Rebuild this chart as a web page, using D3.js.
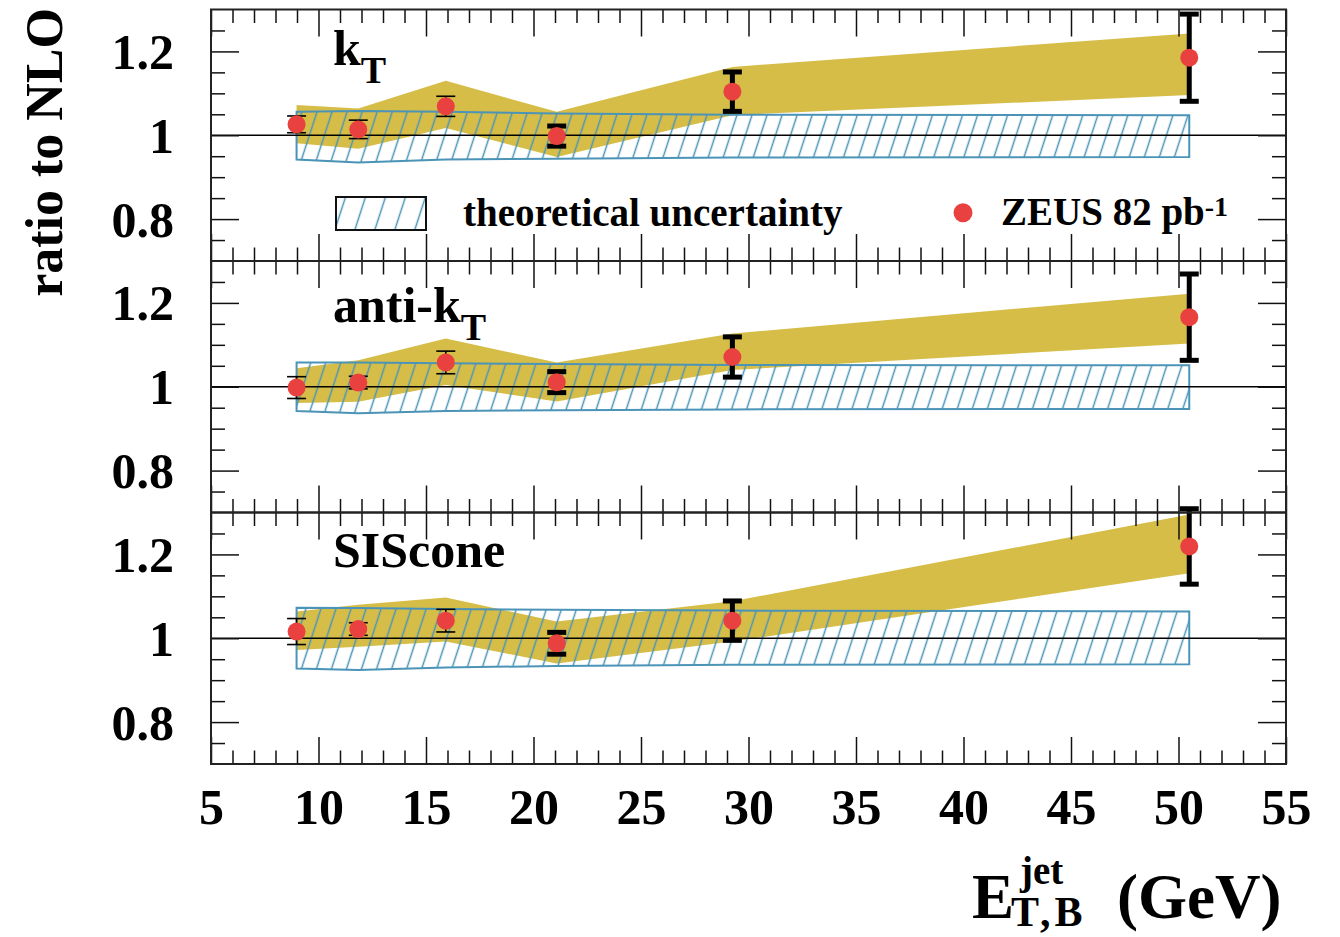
<!DOCTYPE html>
<html>
<head>
<meta charset="utf-8">
<script src="https://cdn.jsdelivr.net/npm/d3@7"></script>
<style>
  body { margin: 0; background: #fff; }
  svg text { font-family: "Liberation Serif", "Times New Roman", serif; font-weight: bold; fill: #000; }
</style>
</head>
<body>
<svg id="chart" width="1340" height="937"></svg>
<script>
// ---- data: ratio of measured inclusive-jet cross sections to NLO ----
const etBins = [8.98, 11.85, 15.92, 21.08, 29.25, 50.5];   // E_T,B^jet (GeV)

// k_T
const ktRatio   = [1.026, 1.014, 1.069, 0.998, 1.104, 1.185];
const ktError   = [0.020, 0.022, 0.024, 0.024, 0.047, 0.104];
const ktBandHi  = [1.072, 1.064, 1.130, 1.056, 1.163, 1.243];
const ktBandLo  = [0.981, 0.968, 1.017, 0.948, 1.048, 1.096];
const ktTheoHi  = [1.056, 1.058, 1.056, 1.052, 1.049, 1.048];
const ktTheoLo  = [0.942, 0.935, 0.942, 0.944, 0.947, 0.948];

// anti-k_T
const akRatio   = [0.998, 1.010, 1.058, 1.011, 1.071, 1.166];
const akError   = [0.026, 0.015, 0.027, 0.025, 0.048, 0.103];
const akBandHi  = [1.044, 1.063, 1.115, 1.058, 1.127, 1.222];
const akBandLo  = [0.961, 0.964, 1.004, 0.965, 1.040, 1.103];
const akTheoHi  = [1.058, 1.058, 1.056, 1.054, 1.052, 1.051];
const akTheoLo  = [0.942, 0.937, 0.942, 0.944, 0.946, 0.947];

// SIScone
const siRatio   = [1.016, 1.022, 1.042, 0.988, 1.042, 1.219];
const siError   = [0.031, 0.015, 0.027, 0.026, 0.047, 0.090];
const siBandHi  = [1.064, 1.080, 1.097, 1.040, 1.088, 1.295];
const siBandLo  = [0.972, 0.980, 0.992, 0.940, 0.992, 1.155];
const siTheoHi  = [1.073, 1.072, 1.070, 1.068, 1.066, 1.064];
const siTheoLo  = [0.928, 0.924, 0.930, 0.934, 0.937, 0.938];

const algoName = ["k", "anti-k", "SIScone"];
const algoSub  = ["T", "T", ""];

const xTickValues = [5, 10, 15, 20, 25, 30, 35, 40, 45, 50, 55];
const yTickValues = [0.8, 1.0, 1.2];
const yTickLabels = ["0.8", "1", "1.2"];

// ---- layout & style ----
const gold = "#d6bd48", hatchBlue = "#4b94b7", red = "#e8413f";
const frameL = 211, frameR = 1286, frameTop = 9.5, panelH = 251.5;
const labelBaseline = [65, 322, 567];
const barWidth = [1.6, 1.6, 1.6, 5, 5, 5];   // thin / heavy error-bar strokes
const capHalf = 9.5, dotR = 9;

const panels = [
  {ratio: ktRatio, err: ktError, hi: ktBandHi, lo: ktBandLo, thHi: ktTheoHi, thLo: ktTheoLo},
  {ratio: akRatio, err: akError, hi: akBandHi, lo: akBandLo, thHi: akTheoHi, thLo: akTheoLo},
  {ratio: siRatio, err: siError, hi: siBandHi, lo: siBandLo, thHi: siTheoHi, thLo: siTheoLo}
];

const svg = d3.select("#chart");
svg.append("rect").attr("width", 1340).attr("height", 937).attr("fill", "#fff");

const defs = svg.append("defs");
function hatchPattern(id, spacing) {
  const p = defs.append("pattern").attr("id", id)
    .attr("patternUnits", "userSpaceOnUse")
    .attr("width", spacing).attr("height", 40)
    .attr("patternTransform", "rotate(18)");
  p.append("line").attr("x1", spacing / 2).attr("x2", spacing / 2)
    .attr("y1", -2).attr("y2", 42)
    .attr("stroke", hatchBlue).attr("stroke-width", 1.5);
}
hatchPattern("hatch", 14.3);
hatchPattern("hatchLegend", 19);

const x = d3.scaleLinear().domain([5, 55]).range([frameL, frameR]);
const xMinor = d3.range(5, 56, 1).filter(v => v % 5 !== 0);
const yMinor = [0.75, 0.85, 0.9, 0.95, 1.05, 1.1, 1.15, 1.25];

function styleAxis(g) {
  g.select(".domain").remove();
  g.selectAll(".tick line").attr("stroke", "#111").attr("stroke-width", 1.5);
  g.attr("font-family", null).attr("font-size", null);
}

panels.forEach((p, i) => {
  const top = frameTop + i * panelH, bottom = top + panelH;
  const y = d3.scaleLinear().domain([0.7, 1.3]).range([bottom, top]);
  const g = svg.append("g");
  const idx = d3.range(etBins.length);

  // data / NLO band
  const area = (hi, lo) => d3.area()
    .x(j => x(etBins[j])).y0(j => y(lo[j])).y1(j => y(hi[j]));
  g.append("path").attr("d", area(p.hi, p.lo)(idx)).attr("fill", gold);

  // theoretical uncertainty (hatched)
  g.append("path").attr("d", area(p.thHi, p.thLo)(idx))
    .attr("fill", "url(#hatch)").attr("stroke", hatchBlue).attr("stroke-width", 2);

  // unity line
  g.append("line").attr("x1", x(5)).attr("x2", x(55))
    .attr("y1", y(1)).attr("y2", y(1)).attr("stroke", "#000").attr("stroke-width", 1.5);

  // error bars
  idx.forEach(j => {
    const cx = x(etBins[j]), yHi = y(p.ratio[j] + p.err[j]), yLo = y(p.ratio[j] - p.err[j]);
    const eb = g.append("g").attr("stroke", "#000").attr("stroke-width", barWidth[j]);
    eb.append("line").attr("x1", cx).attr("x2", cx).attr("y1", yHi).attr("y2", yLo);
    eb.append("line").attr("x1", cx - capHalf).attr("x2", cx + capHalf).attr("y1", yHi).attr("y2", yHi);
    eb.append("line").attr("x1", cx - capHalf).attr("x2", cx + capHalf).attr("y1", yLo).attr("y2", yLo);
  });

  // measured points
  g.selectAll("circle.pt").data(idx).join("circle").attr("class", "pt")
    .attr("cx", j => x(etBins[j])).attr("cy", j => y(p.ratio[j]))
    .attr("r", dotR).attr("fill", red);

  // axes: ticks drawn inside the frame on all four sides
  const yl = g.append("g").attr("transform", `translate(${frameL},0)`)
    .call(d3.axisLeft(y).tickValues(yTickValues).tickSizeInner(-28).tickSizeOuter(0)
      .tickPadding(37).tickFormat((d, k) => yTickLabels[k]));
  styleAxis(yl);
  yl.selectAll(".tick text").attr("font-size", 50).attr("dy", "0.34em");
  styleAxis(g.append("g").attr("transform", `translate(${frameL},0)`)
    .call(d3.axisLeft(y).tickValues(yMinor).tickSizeInner(-14).tickSizeOuter(0).tickFormat("")));
  styleAxis(g.append("g").attr("transform", `translate(${frameR},0)`)
    .call(d3.axisRight(y).tickValues(yTickValues).tickSizeInner(-28).tickSizeOuter(0).tickFormat("")));
  styleAxis(g.append("g").attr("transform", `translate(${frameR},0)`)
    .call(d3.axisRight(y).tickValues(yMinor).tickSizeInner(-14).tickSizeOuter(0).tickFormat("")));

  styleAxis(g.append("g").attr("transform", `translate(0,${top})`)
    .call(d3.axisTop(x).tickValues(xTickValues).tickSizeInner(-27).tickSizeOuter(0).tickFormat("")));
  styleAxis(g.append("g").attr("transform", `translate(0,${top})`)
    .call(d3.axisTop(x).tickValues(xMinor).tickSizeInner(-13.5).tickSizeOuter(0).tickFormat("")));
  const xb = g.append("g").attr("transform", `translate(0,${bottom})`)
    .call(d3.axisBottom(x).tickValues(xTickValues).tickSizeInner(-27).tickSizeOuter(0)
      .tickPadding(24).tickFormat(i === 2 ? d3.format("d") : ""));
  styleAxis(xb);
  xb.selectAll(".tick text").attr("font-size", 50);
  styleAxis(g.append("g").attr("transform", `translate(0,${bottom})`)
    .call(d3.axisBottom(x).tickValues(xMinor).tickSizeInner(-13.5).tickSizeOuter(0).tickFormat("")));

  // frame
  g.append("rect").attr("x", frameL).attr("y", top).attr("width", frameR - frameL).attr("height", panelH)
    .attr("fill", "none").attr("stroke", "#222").attr("stroke-width", 2);

  // algorithm label
  const lab = g.append("text").attr("x", 333).attr("y", labelBaseline[i]).attr("font-size", 50);
  lab.append("tspan").text(algoName[i]);
  if (algoSub[i]) lab.append("tspan").attr("font-size", 38).attr("dy", 18).text(algoSub[i]);
});

// legend
svg.append("rect").attr("x", 336).attr("y", 197).attr("width", 90).attr("height", 33)
  .attr("fill", "url(#hatchLegend)").attr("stroke", "#111").attr("stroke-width", 2);
svg.append("text").attr("x", 463).attr("y", 226).attr("font-size", 39).text("theoretical uncertainty");
svg.append("circle").attr("cx", 963).attr("cy", 212.7).attr("r", 9.5).attr("fill", red);
const zl = svg.append("text").attr("x", 1001).attr("y", 225).attr("font-size", 39);
zl.append("tspan").text("ZEUS 82 pb");
zl.append("tspan").attr("font-size", 28).attr("dy", -9).text("-1");

// axis titles
svg.append("text").attr("transform", "translate(62,8) rotate(-90)")
  .attr("text-anchor", "end").attr("font-size", 52).text("ratio to NLO");
svg.append("text").attr("x", 972).attr("y", 918).attr("font-size", 63).text("E");
svg.append("text").attr("x", 1020).attr("y", 884).attr("font-size", 39).text("jet");
svg.append("text").attr("x", 1011).attr("y", 926).attr("font-size", 42)
  .attr("letter-spacing", 4).text("T,B");
svg.append("text").attr("x", 1117).attr("y", 918).attr("font-size", 63).text("(GeV)");
</script>
</body>
</html>
